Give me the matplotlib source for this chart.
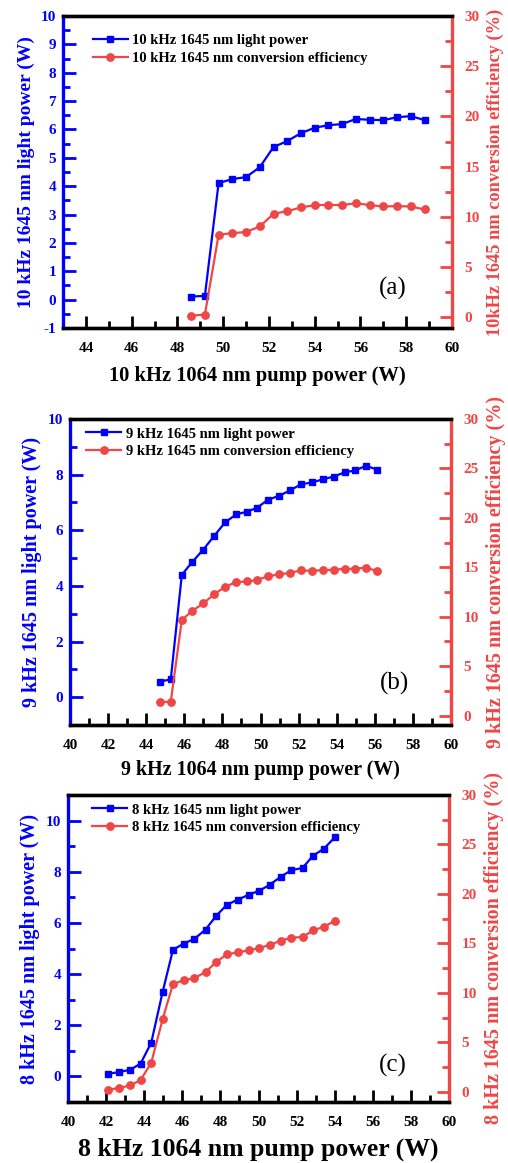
import numpy as np
import matplotlib
matplotlib.use("Agg")
import matplotlib.pyplot as plt
from matplotlib.ticker import MultipleLocator

plt.rcParams['font.family'] = ['Liberation Serif', 'DejaVu Serif']
plt.rcParams['font.weight'] = 'bold'
plt.rcParams['axes.unicode_minus'] = False

BLUE = '#0000ff'
RED = '#ef4646'

# panel (a) 10 kHz
x_10 = [48.6, 49.2, 49.8, 50.4, 51.0, 51.6, 52.2, 52.8, 53.4, 54.0, 54.6, 55.2,
        55.8, 56.4, 57.0, 57.6, 58.2, 58.8]
p_10 = [0.11, 0.13, 4.11, 4.25, 4.32, 4.67, 5.38, 5.59, 5.87, 6.06, 6.15, 6.19,
        6.37, 6.34, 6.33, 6.43, 6.47, 6.33]
e_10 = [0.17, 0.27, 8.22, 8.39, 8.49, 9.05, 10.31, 10.57, 10.94, 11.17, 11.2, 11.17,
        11.37, 11.17, 11.04, 11.07, 11.04, 10.74]

# panel (b) 9 kHz
x_9 = [44.71, 45.29, 45.87, 46.43, 46.99, 47.57, 48.14, 48.72, 49.3, 49.82, 50.4,
       50.98, 51.54, 52.12, 52.7, 53.27, 53.84, 54.41, 54.97, 55.55, 56.11]
p_9 = [0.56, 0.64, 4.40, 4.87, 5.30, 5.80, 6.28, 6.57, 6.67, 6.81, 7.10, 7.24,
       7.43, 7.65, 7.72, 7.83, 7.93, 8.08, 8.15, 8.32, 8.18]
e_9 = [1.35, 1.42, 9.69, 10.6, 11.34, 12.28, 13.03, 13.5, 13.57, 13.7, 14.11, 14.28,
       14.44, 14.68, 14.65, 14.71, 14.75, 14.85, 14.85, 14.98, 14.61]

# panel (c) 8 kHz
x_8 = [42.1, 42.67, 43.27, 43.81, 44.37, 44.97, 45.51, 46.07, 46.64, 47.22, 47.78,
       48.34, 48.92, 49.48, 50.05, 50.61, 51.17, 51.73, 52.31, 52.87, 53.43, 54.0]
p_8 = [0.10, 0.17, 0.26, 0.50, 1.32, 3.31, 4.95, 5.19, 5.38, 5.74, 6.28, 6.71,
       6.91, 7.1, 7.26, 7.5, 7.81, 8.06, 8.15, 8.63, 8.9, 9.34]
e_8 = [0.2, 0.37, 0.64, 1.18, 2.93, 7.35, 10.89, 11.26, 11.49, 12.1, 13.11, 13.89,
       14.09, 14.29, 14.53, 14.86, 15.27, 15.57, 15.64, 16.31, 16.68, 17.26]

W, H = 508, 1163
fig = plt.figure(figsize=(W / 100, H / 100), dpi=100)


def panel(box, x, p, e, freq, rlabel, xlim, ylim, ymaj, ymin, r_ylim, tag,
          xlab_size, ylab_size, rlab_size, tag_pos, leg_anchor, xpad):
    l, t, r, b = box
    ax = fig.add_axes([l / W, 1 - b / H, (r - l) / W, (b - t) / H])
    ax2 = ax.twinx()

    l1, = ax.plot(x, p, '-s', color=BLUE, lw=1.6, ms=5,
                  label=freq + ' 1645 nm light power')
    l2, = ax2.plot(x, e, '-o', color=RED, lw=1.6, ms=5.3,
                   label=freq + ' 1645 nm conversion efficiency')

    ax.set_xlim(*xlim)
    ax.set_ylim(*ylim)
    ax2.set_ylim(*r_ylim)
    ax.xaxis.set_major_locator(MultipleLocator(2))
    ax.xaxis.set_minor_locator(MultipleLocator(1))
    ax.yaxis.set_major_locator(MultipleLocator(ymaj))
    ax.yaxis.set_minor_locator(MultipleLocator(ymin))
    ax2.yaxis.set_major_locator(MultipleLocator(5))
    ax2.yaxis.set_minor_locator(MultipleLocator(2.5))

    for a in (ax, ax2):
        for s in a.spines.values():
            s.set_linewidth(2.4)
    ax.spines['left'].set_color(BLUE)
    ax.spines['right'].set_visible(False)
    ax2.spines['left'].set_visible(False)
    ax2.spines['right'].set_color(RED)
    ax2.spines['top'].set_color('black')

    ax.tick_params(axis='x', which='major', direction='in', length=9, width=2,
                   labelsize=11, top=False, pad=10)
    ax.tick_params(axis='x', which='minor', direction='in', length=5, width=2, top=False)
    ax.tick_params(axis='y', which='major', direction='in', length=9, width=2,
                   color=BLUE, labelcolor=BLUE, labelsize=11, pad=5)
    ax.tick_params(axis='y', which='minor', direction='in', length=5, width=2, color=BLUE)
    ax2.tick_params(axis='y', which='major', direction='in', length=9, width=2,
                    color=RED, labelcolor=RED, labelsize=11, pad=9)
    ax2.tick_params(axis='y', which='minor', direction='in', length=5, width=2, color=RED)
    for lab in ax.get_xticklabels() + ax.get_yticklabels() + ax2.get_yticklabels():
        lab.set_fontweight('bold')

    ax.set_xlabel(freq + ' 1064 nm pump power (W)', fontsize=xlab_size,
                  fontweight='bold', labelpad=xpad)
    ax.set_ylabel(freq + ' 1645 nm light power (W)', fontsize=ylab_size,
                  fontweight='bold', color=BLUE, labelpad=4)
    ax2.set_ylabel(rlabel, fontsize=rlab_size, fontweight='bold', color=RED,
                   labelpad=5)

    ax.legend(handles=[l1, l2], loc='upper left', frameon=False, fontsize=10.5,
              handlelength=2.4, handletextpad=0.3, borderaxespad=0.3,
              labelspacing=0.3, bbox_to_anchor=leg_anchor)
    ax.text(tag_pos[0], tag_pos[1], tag, transform=ax.transAxes, fontsize=18,
            fontweight='normal', ha='center', va='center')


panel((63, 16, 452, 328), x_10, p_10, e_10, '10 kHz',
      '10kHz 1645 nm conversion efficiency (%)', (43, 60), (-1, 10), 1, 0.5,
      (-1.06, 30), '(a)', 14.8, 14, 13.2, (0.848, 0.128), (0.05, 0.975), 8)
panel((70, 419, 451, 725), x_9, p_9, e_9, '9 kHz',
      '9 kHz 1645 nm conversion efficiency (%)', (40, 60), (-1, 10), 2, 1,
      (-0.95, 30), '(b)', 14.4, 14.5, 14.5, (0.853, 0.137), (0.016, 1.006), 6)
panel((68, 795, 449, 1102), x_8, p_8, e_8, '8 kHz',
      '8 kHz 1645 nm conversion efficiency (%)', (40, 60), (-1, 11), 2, 1,
      (-1.04, 30), '(c)', 18.5, 14.5, 14.5, (0.853, 0.12), (0.037, 1.006), 6)

fig.savefig('out.png', dpi=100)
